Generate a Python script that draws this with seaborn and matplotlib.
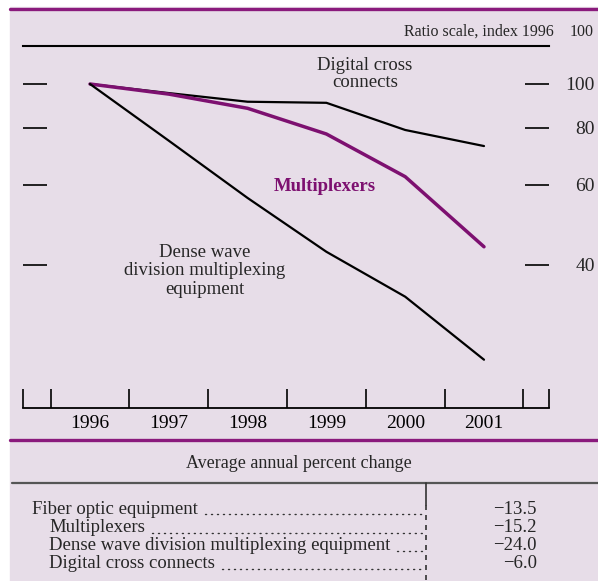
import numpy as np
import pandas as pd
import seaborn as sns
import matplotlib.pyplot as plt
from matplotlib.lines import Line2D
from matplotlib.ticker import FixedLocator, NullLocator

# index values, 1996 = 100
years = [1996, 1997, 1998, 1999, 2000, 2001]
digital_cross = [100, 95.5, 91.4, 90.9, 79.2, 73.0]
multiplexers = [100, 95.0, 88.4, 77.6, 62.5, 43.8]
dwdm = [100, 75.0, 56.1, 42.7, 34.0, 24.7]

y_ticks = [40, 60, 80, 100]

table_rows = [
    "Fiber optic equipment",
    "Multiplexers",
    "Dense wave division multiplexing equipment",
    "Digital cross connects",
]
table_indent = [False, True, True, True]
table_values = [-13.5, -15.2, -24.0, -6.0]

BG = "#e7dde8"
PURPLE = "#7d1070"
RULE = "#8a1a7c"
W, H = 598, 581

df = pd.DataFrame({
    "year": years * 3,
    "index": digital_cross + multiplexers + dwdm,
    "series": ["Digital cross connects"] * 6 + ["Multiplexers"] * 6 + ["DWDM"] * 6,
})

sns.set_theme(style="white")
plt.rcParams["font.family"] = ["Liberation Serif", "DejaVu Serif"]

fig = plt.figure(figsize=(W / 100, H / 100), dpi=100)
fig.patch.set_facecolor("white")


def px(x, y):
    return x / W, 1 - y / H


# lavender panel, white strip on left and top
bg = plt.Rectangle(px(10, H), (W - 10) / W, (H - 7) / H,
                   transform=fig.transFigure, color=BG, zorder=-10)
fig.add_artist(bg)
fig.add_artist(Line2D([10 / W, 1], [1 - 9 / H] * 2, color=RULE, lw=2.4))
fig.add_artist(Line2D([10 / W, 1], [1 - 440 / H] * 2, color=RULE, lw=2.4))

# plot area: x 23..549 px, y 46..408 px
ax = fig.add_axes([23 / W, 1 - 408 / H, (549 - 23) / W, (408 - 46) / H])
ax.set_facecolor("none")
ax.set_zorder(5)

sns.lineplot(data=df, x="year", y="index", hue="series", estimator=None,
             palette={"Digital cross connects": "black", "Multiplexers": PURPLE,
                      "DWDM": "black"},
             size="series", sizes={"Digital cross connects": 1.6, "Multiplexers": 2.5,
                                   "DWDM": 1.6},
             legend=False, ax=ax)

ax.set_yscale("log")
x0 = 1996 - 67 / 78.8
x1 = 2001 + 65 / 78.8
ax.set_xlim(x0, x1)
ax.set_ylim(100 * 10 ** (-324 / 454), 100 * 10 ** (38 / 454))

for s in ["left", "right"]:
    ax.spines[s].set_visible(False)
ax.spines["top"].set_linewidth(1.5)
ax.spines["bottom"].set_linewidth(1.3)
ax.spines["top"].set_color("black")
ax.spines["bottom"].set_color("black")

# x: tall inward ticks between the years, labels centred on years
ax.xaxis.set_major_locator(FixedLocator([x0] + [y - 0.5 for y in years] + [years[-1] + 0.5, x1]))
ax.xaxis.set_major_formatter(plt.NullFormatter())
ax.set_xticks(years, minor=True)
ax.set_xticklabels([str(y) for y in years], minor=True, fontsize=14)
ax.tick_params(axis="x", which="major", direction="in", length=14, width=1.2,
               color="black", bottom=True)
ax.tick_params(axis="x", which="minor", length=0, pad=5, labelcolor="black")

# y: inward ticks on both sides, labels only on right
ax.yaxis.set_major_locator(FixedLocator(y_ticks))
ax.yaxis.set_minor_locator(NullLocator())
ax.set_yticklabels([str(v) for v in y_ticks])
ax.tick_params(axis="y", which="major", direction="in", length=17, width=1.2,
               color="black", left=True, right=True, labelleft=False,
               labelright=True, labelsize=14, pad=33)
for lab in ax.get_yticklabels():
    lab.set_ha("right")
ax.set_xlabel("")
ax.set_ylabel("")

# series labels
ax.text(1999.49, 105.2, "Digital cross\nconnects", ha="center", va="center",
        fontsize=13.5, linespacing=1.0)
ax.text(1998.98, 59.6, "Multiplexers", ha="center", va="center",
        fontsize=13.5, fontweight="bold", color=PURPLE)
ax.text(1997.46, 38.8, "Dense wave\ndivision multiplexing\nequipment", ha="center",
        va="center", fontsize=13.5, linespacing=1.12)

fig.text(*px(554, 32), "Ratio scale, index 1996", ha="right", va="center", fontsize=11.5)
fig.text(*px(594, 32), "100", ha="right", va="center", fontsize=11.5)

# bottom table
fig.text(*px(299, 463), "Average annual percent change", ha="center", va="center",
         fontsize=13)
fig.add_artist(Line2D([12 / W, 1], [1 - 483 / H] * 2, color="#555555", lw=1.6))
fig.add_artist(Line2D([426 / W] * 2, [1 - 483 / H, 1 - 505 / H], color="#333333", lw=1.2))
fig.add_artist(Line2D([426 / W] * 2, [1 - 505 / H, 0], color="#333333", lw=1.2,
                      ls=(0, (3, 3))))

row_y = [509, 527.5, 546, 564]
texts = []
for name, ind, val, yy in zip(table_rows, table_indent, table_values, row_y):
    t = fig.text(*px(49 if ind else 32, yy), name, ha="left", va="center", fontsize=13.5)
    texts.append((t, yy))
    fig.text(*px(537, yy), f"\u2212{abs(val):.1f}", ha="right", va="center", fontsize=13.5)

fig.canvas.draw()
r = fig.canvas.get_renderer()
for t, yy in texts:
    bb = t.get_window_extent(r)
    fig.add_artist(Line2D([(bb.x1 + 7) / W, 422 / W], [1 - (yy + 5) / H] * 2,
                          color="#333333", lw=1.0, ls=(0, (0.8, 3.5)),
                          dash_capstyle="round"))

fig.savefig("out.png", dpi=100, facecolor=fig.get_facecolor())
